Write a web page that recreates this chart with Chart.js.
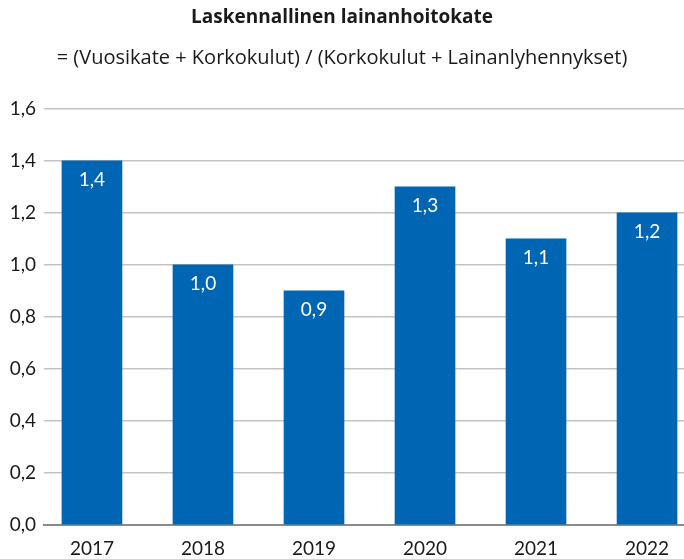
<!DOCTYPE html>
<html>
<head>
<meta charset="utf-8">
<script src="https://cdn.jsdelivr.net/npm/chart.js@4"></script>
<style>
  html, body { margin: 0; padding: 0; background: #fff; overflow: hidden; }
  #wrap { width: 684px; height: 559px; }
</style>
</head>
<body>
<div id="wrap"><canvas id="chart"></canvas></div>
<script>
// Laskennallinen lainanhoitokate 2017–2022, bars with value labels inside.

const YEARS = [2017, 2018, 2019, 2020, 2021, 2022];
const VALUES = [1.4, 1.0, 0.9, 1.3, 1.1, 1.2];
const Y_TICKS = [0, 0.2, 0.4, 0.6, 0.8, 1.0, 1.2, 1.4, 1.6];

const FONT = "Lato, 'Open Sans', sans-serif";
const TITLE_FONT = "'Open Sans', Lato, sans-serif";
const BLUE = "#0066b3";
const fmt = (v) => v.toFixed(1).replace(".", ",");

// White value labels just under the top of each bar.
const valueLabels = {
  id: "valueLabels",
  afterDatasetsDraw(chart) {
    const ctx = chart.ctx;
    const meta = chart.getDatasetMeta(0);
    ctx.save();
    ctx.fillStyle = "#fff";
    ctx.font = `19px ${FONT}`;
    ctx.textAlign = "center";
    ctx.textBaseline = "middle";
    meta.data.forEach((bar, i) => ctx.fillText(fmt(VALUES[i]), bar.x, bar.y + 19));
    ctx.restore();
  },
};

new Chart(document.getElementById("chart"), {
  type: "bar",
  data: {
    datasets: [{
      data: YEARS.map((y, i) => ({ x: y, y: VALUES[i] })),
      backgroundColor: BLUE,
      barThickness: 60,
    }],
  },
  options: {
    responsive: true,
    maintainAspectRatio: false,
    animation: false,
    layout: { padding: 0 },
    plugins: {
      legend: { display: false },
      tooltip: { enabled: false },
      title: {
        display: true,
        text: "Laskennallinen lainanhoitokate",
        color: "#1a1a1a",
        font: { family: TITLE_FONT, size: 19, weight: "bold" },
        padding: { top: 6, bottom: 10 },
      },
      subtitle: {
        display: true,
        text: "= (Vuosikate + Korkokulut) / (Korkokulut + Lainanlyhennykset)",
        color: "#1a1a1a",
        font: { family: TITLE_FONT, size: 20 },
        padding: { top: 7, bottom: 39 },
      },
    },
    scales: {
      x: {
        type: "linear",
        offset: false,
        min: 2016.568,
        max: 2022.333,
        afterBuildTicks: (s) => { s.ticks = YEARS.map((v) => ({ value: v })); },
        afterFit: (s) => { s.height = 34; },
        grid: { display: false },
        border: { color: "#8a8a8a", width: 2 },
        ticks: { color: "#1a1a1a", font: { family: FONT, size: 19 }, padding: 4, callback: (v) => String(v) },
      },
      y: {
        min: 0,
        max: 1.6,
        afterBuildTicks: (s) => { s.ticks = Y_TICKS.map((v) => ({ value: v })); },
        afterFit: (s) => { s.width = 44; },
        grid: { color: "#c4c4c4", lineWidth: 1.5, drawTicks: false },
        border: { display: false },
        ticks: { color: "#1a1a1a", font: { family: FONT, size: 19 }, padding: 8, callback: (v) => fmt(v) },
      },
    },
  },
  plugins: [valueLabels],
});
</script>
</body>
</html>
